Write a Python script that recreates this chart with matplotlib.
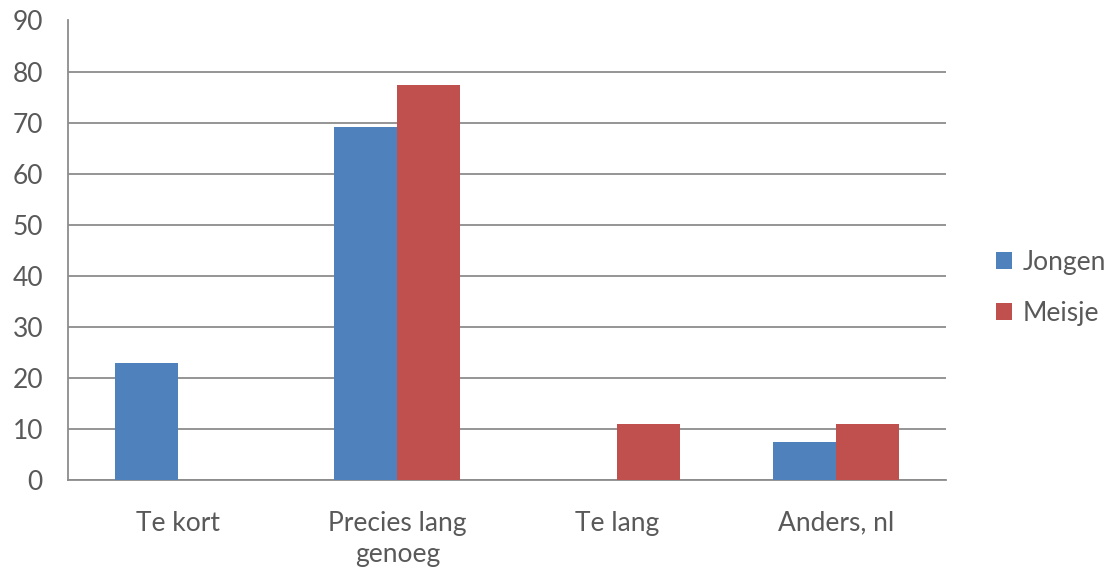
import matplotlib.pyplot as plt
import numpy as np

categories = ['Te kort', 'Precies lang\ngenoeg', 'Te lang', 'Anders, nl']
jongen = [23, 69.1, 0, 7.4]
meisje = [0, 77.4, 11, 11]
series_names = ['Jongen', 'Meisje']

blue = '#4F81BD'
red = '#C0504D'
grid_col = '#8C8C8C'
text_col = '#595959'

plt.rcParams['font.family'] = ['Lato', 'DejaVu Sans']

fig = plt.figure(figsize=(11.08, 5.68), dpi=100)
ax = fig.add_axes([68/1108, 1-480/568, (946-68)/1108, (480-20.5)/568])

x = np.arange(len(categories))
w = 0.287
ax.bar(x - w/2, jongen, w, color=blue, label=series_names[0], zorder=3)
ax.bar(x + w/2, meisje, w, color=red, label=series_names[1], zorder=3)

ax.set_xlim(-0.5, len(categories) - 0.5)
ax.set_ylim(0, 90)
ax.set_yticks(range(0, 91, 10))
ax.yaxis.grid(True, color=grid_col, linewidth=1.3, zorder=0)
ax.set_xticks(x)
ax.set_xticklabels(categories, linespacing=1.3)
ax.tick_params(axis='both', length=0, labelsize=19, colors=text_col)
ax.tick_params(axis='x', pad=22)
ax.tick_params(axis='y', pad=18)
for s in ['top', 'right']:
    ax.spines[s].set_visible(False)
for s in ['left', 'bottom']:
    ax.spines[s].set_color(grid_col)
    ax.spines[s].set_linewidth(1.3)

leg = ax.legend(loc='center left', bbox_to_anchor=(1.03, 0.418), frameon=False,
                fontsize=19, handlelength=0.6, handleheight=0.6, handletextpad=0.4,
                labelspacing=1.0)
for t in leg.get_texts():
    t.set_color(text_col)

fig.savefig('out.png', dpi=100)
